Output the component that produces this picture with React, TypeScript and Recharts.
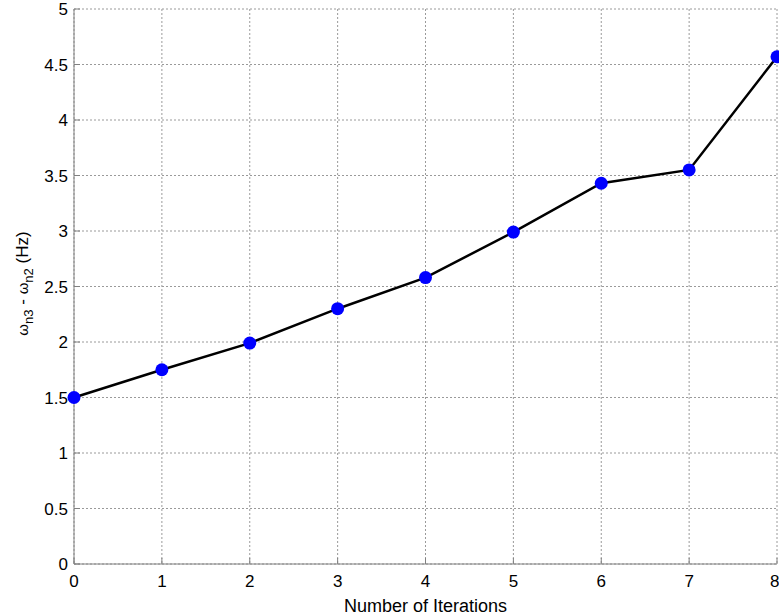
import React from "react";
import { LineChart, Line, XAxis, YAxis, CartesianGrid } from "recharts";

const iterations = [0, 1, 2, 3, 4, 5, 6, 7, 8];
const freqDiff = [1.5, 1.75, 1.99, 2.3, 2.58, 2.99, 3.43, 3.55, 4.57];
const xTicks = [0, 1, 2, 3, 4, 5, 6, 7, 8];
const yTicks = [0, 0.5, 1, 1.5, 2, 2.5, 3, 3.5, 4, 4.5, 5];

const data = iterations.map((it, i) => ({ it, val: freqDiff[i] }));

const FONT = '"Liberation Sans", Arial, Helvetica, sans-serif';
const AXIS = "#808080";

const EmptyTick = () => <g />;

const YLabel = (props: any) => {
  const vb = props.viewBox || {};
  const cy = vb.y + vb.height / 2 - 3;
  const cx = 28;
  return (
    <text
      x={cx}
      y={cy}
      transform={`rotate(-90, ${cx}, ${cy})`}
      textAnchor="middle"
      fontFamily={FONT}
      fontSize={17}
      fill="#000"
    >
      <tspan fontSize={15}>ω</tspan>
      <tspan fontSize={13} dy={5}>n3</tspan>
      <tspan dy={-5}> - </tspan>
      <tspan fontSize={15}>ω</tspan>
      <tspan fontSize={13} dy={5}>n2</tspan>
      <tspan dy={-5}> (Hz)</tspan>
    </text>
  );
};

export default function App() {
  return (
    <div style={{ position: "absolute", left: 0, top: 0, background: "#fff" }}>
      <LineChart
        width={779}
        height={615}
        data={data}
        margin={{ top: 9, right: 2, bottom: 0, left: 0 }}
      >
        <CartesianGrid
          stroke="#9a9a9a"
          strokeDasharray="2 2"
          strokeWidth={1}
          horizontalValues={yTicks}
          verticalValues={xTicks}
        />
        <XAxis
          dataKey="it"
          type="number"
          domain={[0, 8]}
          ticks={xTicks}
          height={51}
          stroke={AXIS}
          tickSize={-6}
          tickMargin={17}
          tick={{ fill: "#000", fontSize: 17, fontFamily: FONT }}
          label={{
            value: "Number of Iterations",
            position: "insideBottom",
            offset: 3,
            fill: "#000",
            fontSize: 18,
            fontFamily: FONT,
          }}
        />
        <XAxis
          xAxisId="top"
          orientation="top"
          type="number"
          domain={[0, 8]}
          ticks={xTicks}
          height={0}
          stroke={AXIS}
          tickSize={-6}
          tick={EmptyTick}
        />
        <YAxis
          type="number"
          domain={[0, 5]}
          ticks={yTicks}
          width={74}
          stroke={AXIS}
          tickSize={-6}
          tickMargin={12}
          interval={0}
          tick={{ fill: "#000", fontSize: 17, fontFamily: FONT }}
          label={<YLabel />}
        />
        <YAxis
          yAxisId="right"
          orientation="right"
          type="number"
          domain={[0, 5]}
          ticks={yTicks}
          width={0}
          stroke={AXIS}
          tickSize={-6}
          interval={0}
          tick={EmptyTick}
        />
        <Line
          dataKey="val"
          stroke="#000"
          strokeWidth={2.5}
          isAnimationActive={false}
          dot={{ r: 6.5, fill: "#0000ff", stroke: "#0000ff", strokeWidth: 0 }}
          activeDot={false}
        />
      </LineChart>
    </div>
  );
}
